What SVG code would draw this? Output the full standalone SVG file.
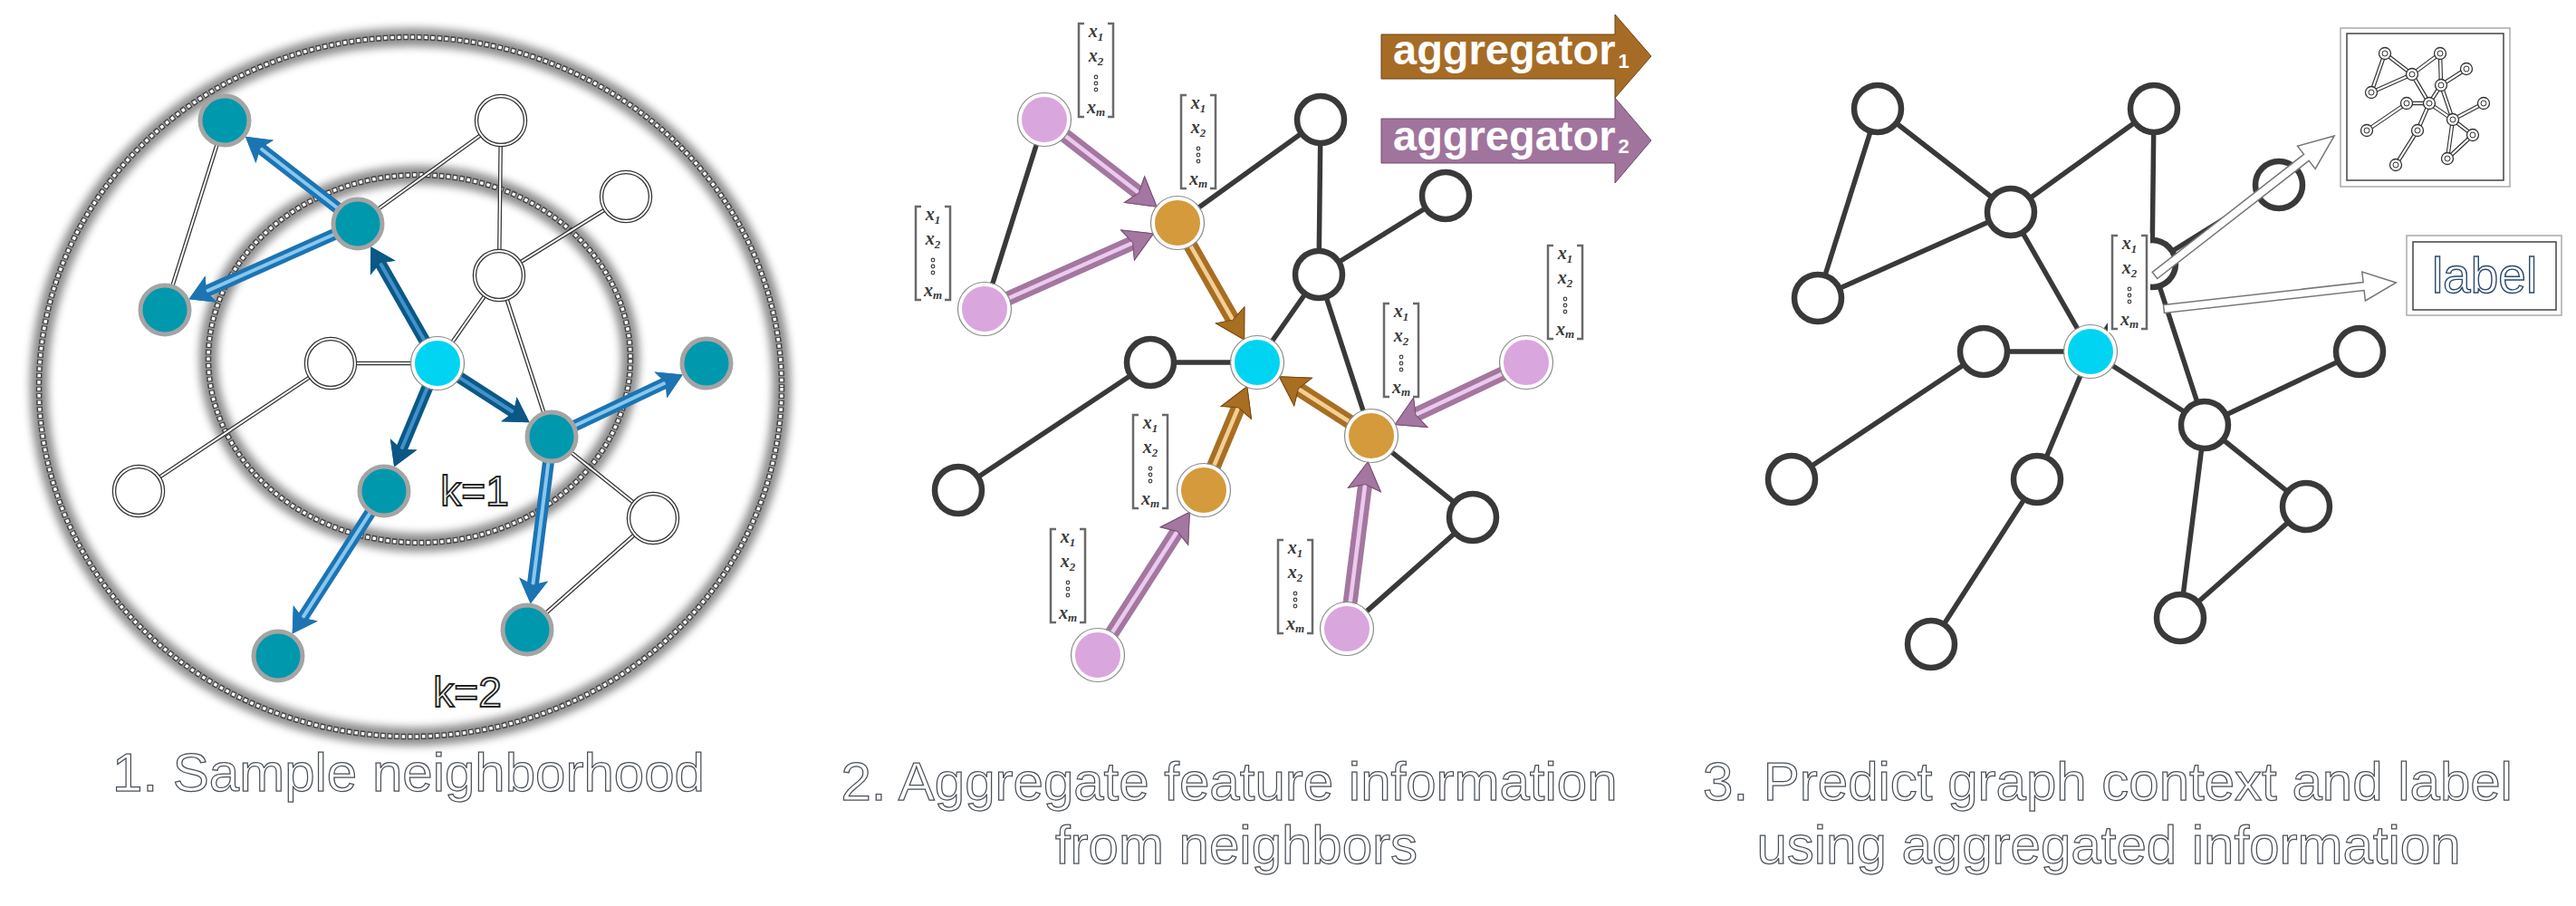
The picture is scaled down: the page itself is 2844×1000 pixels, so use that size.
<svg xmlns="http://www.w3.org/2000/svg" width="2844" height="1000" viewBox="0 0 2844 1000">
<style>
.cap{font-family:"Liberation Sans",Arial,Helvetica,sans-serif;font-size:60px;fill:#fff;stroke:#4a5058;stroke-width:1.25px;text-anchor:middle}
.k{font-family:"Liberation Sans",Arial,sans-serif;font-size:46px;fill:#fff;stroke:#222;stroke-width:1.8px;text-anchor:middle}
.agg{font-family:"Liberation Sans",Arial,sans-serif;font-weight:bold;fill:#fff}
.mx{font-family:"Liberation Serif","Times New Roman",serif;font-style:italic;font-weight:bold;font-size:20px;fill:#3a3a3a;text-anchor:middle}
.lbl{font-family:"Liberation Sans",Arial,sans-serif;font-size:55px;fill:#fff;stroke:#2b4a6e;stroke-width:1.4px;text-anchor:middle}
.e1d{stroke:#333;stroke-width:4.5}
.e1w{stroke:#fff;stroke-width:2}
.e2{stroke:#393939;stroke-width:5.5}
.tl{fill:#0098ad;stroke:#a4a4a4;stroke-width:5}
.w1{fill:#fff;stroke:#333;stroke-width:4.5}
.w1i{fill:none;stroke:#fff;stroke-width:2}
.w2{fill:#fff;stroke:#393939;stroke-width:6.5}
.ring{fill:none;stroke:#8a8a8a;stroke-width:1.2}
.cy{fill:#00d4f2;stroke:#fff;stroke-width:4}
.or{fill:#d49a3b;stroke:#fff;stroke-width:4}
.pk{fill:#d9a6de;stroke:#fff;stroke-width:4}
.a1{stroke:#0b5886;stroke-width:13}
.a1s{stroke:#3f93cc;stroke-width:4}
.a2{stroke:#1d74b2;stroke-width:13}
.a2s{stroke:#86c8f0;stroke-width:4}
.am{stroke:#a3779f;stroke-width:16}
.ams{stroke:#ecc9ee;stroke-width:4.5}
.ao{stroke:#a86e22;stroke-width:16}
.aos{stroke:#f3cf95;stroke-width:4.5}
.hol{fill:#fff;stroke:#777;stroke-width:1.5}
.box-o{fill:#fff;stroke:#aaa;stroke-width:1.5}
.box-i{fill:none;stroke:#444;stroke-width:1.5}
</style>
<defs>
<filter id="blur" x="-10%" y="-10%" width="120%" height="120%"><feGaussianBlur stdDeviation="5"/></filter>
<marker id="mk-b1" markerUnits="userSpaceOnUse" orient="auto" refX="4" refY="0" markerWidth="30" markerHeight="30" style="overflow:visible"><path d="M-3,-16 L24,0 L-3,16 L3,0 z" fill="#0b5886"/></marker>
<marker id="mk-b2" markerUnits="userSpaceOnUse" orient="auto" refX="4" refY="0" markerWidth="30" markerHeight="30" style="overflow:visible"><path d="M-3,-16 L24,0 L-3,16 L3,0 z" fill="#1d74b2"/></marker>
<marker id="mk-m" markerUnits="userSpaceOnUse" orient="auto" refX="8" refY="0" markerWidth="30" markerHeight="30" style="overflow:visible"><path d="M-3,-18 L28,0 L-3,18 L3,0 z" fill="#a3779f" stroke="#7a5277" stroke-width="1"/></marker>
<marker id="mk-o" markerUnits="userSpaceOnUse" orient="auto" refX="8" refY="0" markerWidth="30" markerHeight="30" style="overflow:visible"><path d="M-3,-18 L28,0 L-3,18 L3,0 z" fill="#a86e22" stroke="#7a4c12" stroke-width="1"/></marker>
<g id="mat">
<path d="M8,0 H2 V103 H8 M34,0 H40 V103 H34" fill="none" stroke="#6a6a6a" stroke-width="2.5"/>
<text x="21" y="15" class="mx">x<tspan font-size="13" dy="4">1</tspan></text>
<text x="21" y="42" class="mx">x<tspan font-size="13" dy="4">2</tspan></text>
<circle cx="21" cy="59" r="1.8" fill="none" stroke="#444" stroke-width="1.2"/>
<circle cx="21" cy="66" r="1.8" fill="none" stroke="#444" stroke-width="1.2"/>
<circle cx="21" cy="73" r="1.8" fill="none" stroke="#444" stroke-width="1.2"/>
<text x="21" y="99" class="mx">x<tspan font-size="13" dy="3">m</tspan></text>
</g>
</defs>
<rect width="2844" height="1000" fill="#fff"/>

<!-- ============ PANEL 1 ============ -->
<g id="panel1">
<g id="p1-rings">
<ellipse cx="453" cy="427" rx="410" ry="386" fill="none" stroke="#777" stroke-width="20" filter="url(#blur)" opacity="0.85"/>
<ellipse cx="453" cy="427" rx="410" ry="386" fill="none" stroke="#444" stroke-width="6.5" stroke-dasharray="5.5 2"/>
<ellipse cx="453" cy="427" rx="410" ry="386" fill="none" stroke="#fff" stroke-width="3.5" stroke-dasharray="3.5 4" stroke-dashoffset="-1"/>
<ellipse cx="463" cy="396" rx="233" ry="203" fill="none" stroke="#777" stroke-width="20" filter="url(#blur)" opacity="0.85"/>
<ellipse cx="463" cy="396" rx="233" ry="203" fill="none" stroke="#444" stroke-width="6.5" stroke-dasharray="5.5 2"/>
<ellipse cx="463" cy="396" rx="233" ry="203" fill="none" stroke="#fff" stroke-width="3.5" stroke-dasharray="3.5 4" stroke-dashoffset="-1"/>
</g>
<g id="p1-connectors">
<g class="e1d">
<line x1="248" y1="133" x2="182" y2="342"/>
<line x1="395" y1="247" x2="553" y2="133"/>
<line x1="553" y1="133" x2="551" y2="304"/>
<line x1="691" y1="217" x2="551" y2="304"/>
<line x1="551" y1="304" x2="483" y2="401"/>
<line x1="551" y1="304" x2="609" y2="482"/>
<line x1="365" y1="401" x2="483" y2="401"/>
<line x1="365" y1="401" x2="153" y2="542"/>
<line x1="609" y1="482" x2="721" y2="572"/>
<line x1="721" y1="572" x2="582" y2="695"/>
</g>
<g class="e1w">
<line x1="248" y1="133" x2="182" y2="342"/>
<line x1="395" y1="247" x2="553" y2="133"/>
<line x1="553" y1="133" x2="551" y2="304"/>
<line x1="691" y1="217" x2="551" y2="304"/>
<line x1="551" y1="304" x2="483" y2="401"/>
<line x1="551" y1="304" x2="609" y2="482"/>
<line x1="365" y1="401" x2="483" y2="401"/>
<line x1="365" y1="401" x2="153" y2="542"/>
<line x1="609" y1="482" x2="721" y2="572"/>
<line x1="721" y1="572" x2="582" y2="695"/>
</g>
<line class="a1" x1="483" y1="401" x2="419.3" y2="289.5" marker-end="url(#mk-b1)"/>
<line class="a1s" x1="483" y1="401" x2="419.3" y2="289.5" marker-end="url(#mk-b1)"/>
<line class="a1" x1="483" y1="401" x2="567.8" y2="455.5" marker-end="url(#mk-b1)"/>
<line class="a1s" x1="483" y1="401" x2="567.8" y2="455.5" marker-end="url(#mk-b1)"/>
<line class="a1" x1="483" y1="401" x2="442.9" y2="496.8" marker-end="url(#mk-b1)"/>
<line class="a1s" x1="483" y1="401" x2="442.9" y2="496.8" marker-end="url(#mk-b1)"/>
<line class="a2" x1="395" y1="247" x2="286.7" y2="163" marker-end="url(#mk-b2)"/>
<line class="a2s" x1="395" y1="247" x2="286.7" y2="163" marker-end="url(#mk-b2)"/>
<line class="a2" x1="395" y1="247" x2="226.8" y2="322" marker-end="url(#mk-b2)"/>
<line class="a2s" x1="395" y1="247" x2="226.8" y2="322" marker-end="url(#mk-b2)"/>
<line class="a2" x1="609" y1="482" x2="735.7" y2="422" marker-end="url(#mk-b2)"/>
<line class="a2s" x1="609" y1="482" x2="735.7" y2="422" marker-end="url(#mk-b2)"/>
<line class="a2" x1="609" y1="482" x2="588.2" y2="646.4" marker-end="url(#mk-b2)"/>
<line class="a2s" x1="609" y1="482" x2="588.2" y2="646.4" marker-end="url(#mk-b2)"/>
<line class="a2" x1="424" y1="542" x2="333.5" y2="682.8" marker-end="url(#mk-b2)"/>
<line class="a2s" x1="424" y1="542" x2="333.5" y2="682.8" marker-end="url(#mk-b2)"/>
</g>
<g id="p1-nodes">
<g id="p1-w1"><circle cx="553" cy="133" r="27" class="w1"/><circle cx="553" cy="133" r="27" class="w1i"/></g>
<g id="p1-w2"><circle cx="691" cy="217" r="27" class="w1"/><circle cx="691" cy="217" r="27" class="w1i"/></g>
<g id="p1-w3"><circle cx="551" cy="304" r="27" class="w1"/><circle cx="551" cy="304" r="27" class="w1i"/></g>
<g id="p1-w4"><circle cx="365" cy="401" r="27" class="w1"/><circle cx="365" cy="401" r="27" class="w1i"/></g>
<g id="p1-w5"><circle cx="153" cy="542" r="27" class="w1"/><circle cx="153" cy="542" r="27" class="w1i"/></g>
<g id="p1-w6"><circle cx="721" cy="572" r="27" class="w1"/><circle cx="721" cy="572" r="27" class="w1i"/></g>
<g id="p1-t1"><circle cx="395" cy="247" r="27" class="tl"/></g>
<g id="p1-t2"><circle cx="248" cy="133" r="27" class="tl"/></g>
<g id="p1-t3"><circle cx="182" cy="342" r="27" class="tl"/></g>
<g id="p1-t4"><circle cx="609" cy="482" r="27" class="tl"/></g>
<g id="p1-t5"><circle cx="780" cy="401" r="27" class="tl"/></g>
<g id="p1-t6"><circle cx="424" cy="542" r="27" class="tl"/></g>
<g id="p1-t7"><circle cx="307" cy="724" r="27" class="tl"/></g>
<g id="p1-t8"><circle cx="582" cy="695" r="27" class="tl"/></g>
<g id="p1-c"><circle cx="483" cy="401" r="27" class="cy"/><circle cx="483" cy="401" r="29.5" class="ring"/></g>
</g>
<text class="k" x="524" y="558">k=1</text>
<text class="k" x="516" y="780">k=2</text>
<text class="cap" x="451" y="873">1. Sample neighborhood</text>
</g>

<!-- ============ PANEL 2 ============ -->
<g id="panel2">
<g id="p2-connectors" transform="translate(905,-1)">
<g class="e2">
<line x1="248" y1="133" x2="182" y2="342"/>
<line x1="395" y1="247" x2="553" y2="133"/>
<line x1="553" y1="133" x2="551" y2="304"/>
<line x1="691" y1="217" x2="551" y2="304"/>
<line x1="551" y1="304" x2="483" y2="401"/>
<line x1="551" y1="304" x2="609" y2="482"/>
<line x1="365" y1="401" x2="483" y2="401"/>
<line x1="365" y1="401" x2="153" y2="542"/>
<line x1="609" y1="482" x2="721" y2="572"/>
<line x1="721" y1="572" x2="582" y2="695"/>
</g>
<line class="am" x1="248" y1="133" x2="356.3" y2="217" marker-end="url(#mk-m)"/>
<line class="ams" x1="248" y1="133" x2="356.3" y2="217" marker-end="url(#mk-m)"/>
<line class="am" x1="182" y1="342" x2="350.2" y2="267" marker-end="url(#mk-m)"/>
<line class="ams" x1="182" y1="342" x2="350.2" y2="267" marker-end="url(#mk-m)"/>
<line class="am" x1="780" y1="401" x2="653.3" y2="461" marker-end="url(#mk-m)"/>
<line class="ams" x1="780" y1="401" x2="653.3" y2="461" marker-end="url(#mk-m)"/>
<line class="am" x1="582" y1="695" x2="602.8" y2="530.6" marker-end="url(#mk-m)"/>
<line class="ams" x1="582" y1="695" x2="602.8" y2="530.6" marker-end="url(#mk-m)"/>
<line class="am" x1="307" y1="724" x2="397.5" y2="583.2" marker-end="url(#mk-m)"/>
<line class="ams" x1="307" y1="724" x2="397.5" y2="583.2" marker-end="url(#mk-m)"/>
<line class="ao" x1="395" y1="247" x2="458.7" y2="358.5" marker-end="url(#mk-o)"/>
<line class="aos" x1="395" y1="247" x2="458.7" y2="358.5" marker-end="url(#mk-o)"/>
<line class="ao" x1="609" y1="482" x2="524.2" y2="427.5" marker-end="url(#mk-o)"/>
<line class="aos" x1="609" y1="482" x2="524.2" y2="427.5" marker-end="url(#mk-o)"/>
<line class="ao" x1="424" y1="542" x2="464.1" y2="446.2" marker-end="url(#mk-o)"/>
<line class="aos" x1="424" y1="542" x2="464.1" y2="446.2" marker-end="url(#mk-o)"/>
</g>
<g id="p2-nodes" transform="translate(905,-1)">
<g id="p2-w1"><circle cx="553" cy="133" r="26" class="w2"/></g>
<g id="p2-w2"><circle cx="691" cy="217" r="26" class="w2"/></g>
<g id="p2-w3"><circle cx="551" cy="304" r="26" class="w2"/></g>
<g id="p2-w4"><circle cx="365" cy="401" r="26" class="w2"/></g>
<g id="p2-w5"><circle cx="153" cy="542" r="26" class="w2"/></g>
<g id="p2-w6"><circle cx="721" cy="572" r="26" class="w2"/></g>
<g id="p2-o1"><circle cx="395" cy="247" r="27" class="or"/><circle cx="395" cy="247" r="29.5" class="ring"/></g>
<g id="p2-o2"><circle cx="609" cy="482" r="27" class="or"/><circle cx="609" cy="482" r="29.5" class="ring"/></g>
<g id="p2-o3"><circle cx="424" cy="542" r="27" class="or"/><circle cx="424" cy="542" r="29.5" class="ring"/></g>
<g id="p2-p1"><circle cx="248" cy="133" r="27" class="pk"/><circle cx="248" cy="133" r="29.5" class="ring"/></g>
<g id="p2-p2"><circle cx="182" cy="342" r="27" class="pk"/><circle cx="182" cy="342" r="29.5" class="ring"/></g>
<g id="p2-p3"><circle cx="780" cy="401" r="27" class="pk"/><circle cx="780" cy="401" r="29.5" class="ring"/></g>
<g id="p2-p4"><circle cx="307" cy="724" r="27" class="pk"/><circle cx="307" cy="724" r="29.5" class="ring"/></g>
<g id="p2-p5"><circle cx="582" cy="695" r="27" class="pk"/><circle cx="582" cy="695" r="29.5" class="ring"/></g>
<g id="p2-c"><circle cx="483" cy="401" r="27" class="cy"/><circle cx="483" cy="401" r="29.5" class="ring"/></g>
</g>
<g id="p2-features">
<use href="#mat" x="1189" y="26"/>
<use href="#mat" x="1302" y="105"/>
<use href="#mat" x="1009" y="228"/>
<use href="#mat" x="1707" y="271"/>
<use href="#mat" x="1526" y="335"/>
<use href="#mat" x="1249" y="458"/>
<use href="#mat" x="1158" y="584"/>
<use href="#mat" x="1409" y="596"/>
</g>
<g id="agg1">
<path d="M1525,38 H1783 V16 L1823,62 L1783,108 V87 H1525 z" fill="#a66c26" stroke="#6b4515" stroke-width="1"/>
<text class="agg" x="1538" y="71" font-size="47">aggregator<tspan font-size="22" dx="3" dy="4">1</tspan></text>
</g>
<g id="agg2">
<path d="M1525,131 H1783 V108 L1823,155 L1783,202 V180 H1525 z" fill="#a1749e" stroke="#6e4a6b" stroke-width="1"/>
<text class="agg" x="1538" y="166" font-size="47">aggregator<tspan font-size="22" dx="3" dy="3">2</tspan></text>
</g>
<text class="cap" x="1357" y="883">2. Aggregate feature information</text>
<text class="cap" x="1365" y="953">from neighbors</text>
</g>

<!-- ============ PANEL 3 ============ -->
<g id="panel3">
<g id="p3-connectors" transform="translate(1825,-13)" class="e2">
<line x1="248" y1="133" x2="182" y2="342"/>
<line x1="395" y1="247" x2="553" y2="133"/>
<line x1="553" y1="133" x2="551" y2="304"/>
<line x1="691" y1="217" x2="551" y2="304"/>
<line x1="551" y1="304" x2="483" y2="401"/>
<line x1="551" y1="304" x2="609" y2="482"/>
<line x1="365" y1="401" x2="483" y2="401"/>
<line x1="365" y1="401" x2="153" y2="542"/>
<line x1="609" y1="482" x2="721" y2="572"/>
<line x1="721" y1="572" x2="582" y2="695"/>
<line x1="483" y1="401" x2="395" y2="247"/>
<line x1="395" y1="247" x2="248" y2="133"/>
<line x1="395" y1="247" x2="182" y2="342"/>
<line x1="483" y1="401" x2="609" y2="482"/>
<line x1="609" y1="482" x2="780" y2="401"/>
<line x1="609" y1="482" x2="582" y2="695"/>
<line x1="483" y1="401" x2="424" y2="542"/>
<line x1="424" y1="542" x2="307" y2="724"/>
</g>
<g id="p3-nodes" transform="translate(1825,-13)">
<g id="p3-n1"><circle cx="248" cy="133" r="26" class="w2"/></g>
<g id="p3-n2"><circle cx="395" cy="247" r="26" class="w2"/></g>
<g id="p3-n3"><circle cx="182" cy="342" r="26" class="w2"/></g>
<g id="p3-n4"><circle cx="553" cy="133" r="26" class="w2"/></g>
<g id="p3-n5"><circle cx="691" cy="217" r="26" class="w2"/></g>
<g id="p3-n6"><circle cx="551" cy="304" r="26" class="w2"/></g>
<g id="p3-n7"><circle cx="365" cy="401" r="26" class="w2"/></g>
<g id="p3-n8"><circle cx="153" cy="542" r="26" class="w2"/></g>
<g id="p3-n9"><circle cx="609" cy="482" r="26" class="w2"/></g>
<g id="p3-n10"><circle cx="780" cy="401" r="26" class="w2"/></g>
<g id="p3-n11"><circle cx="424" cy="542" r="26" class="w2"/></g>
<g id="p3-n12"><circle cx="307" cy="724" r="26" class="w2"/></g>
<g id="p3-n13"><circle cx="721" cy="572" r="26" class="w2"/></g>
<g id="p3-n14"><circle cx="582" cy="695" r="26" class="w2"/></g>
<g id="p3-c"><circle cx="483" cy="401" r="27" class="cy"/><circle cx="483" cy="401" r="29.5" class="ring"/></g>
</g>
<g id="p3-feature">
<rect x="2327" y="257" width="47" height="110" fill="#fff"/>
<use href="#mat" x="2330" y="260"/>
</g>
<g id="p3-context">
<rect x="2584" y="31" width="187" height="175" class="box-o"/>
<rect x="2591" y="37" width="173" height="162" class="box-i"/>
<path d="M2633,59L2618,102 M2663,82L2694,59 M2694,59L2695,94 M2723,76L2695,94 M2695,94L2682,114 M2695,94L2708,132 M2657,114L2682,114 M2657,114L2613,144 M2708,132L2730,149 M2730,149L2702,175 M2682,114L2663,82 M2663,82L2633,59 M2663,82L2618,102 M2682,114L2708,132 M2708,132L2742,114 M2708,132L2702,175 M2682,114L2669,144 M2669,144L2645,182" fill="none" stroke="#333" stroke-width="4.5"/>
<path d="M2633,59L2618,102 M2663,82L2694,59 M2694,59L2695,94 M2723,76L2695,94 M2695,94L2682,114 M2695,94L2708,132 M2657,114L2682,114 M2657,114L2613,144 M2708,132L2730,149 M2730,149L2702,175 M2682,114L2663,82 M2663,82L2633,59 M2663,82L2618,102 M2682,114L2708,132 M2708,132L2742,114 M2708,132L2702,175 M2682,114L2669,144 M2669,144L2645,182" fill="none" stroke="#fff" stroke-width="2.2"/>
<g fill="#fff" stroke="#333" stroke-width="1.3">
<circle cx="2633" cy="59" r="6.5"/><circle cx="2694" cy="59" r="6.5"/><circle cx="2663" cy="82" r="6.5"/>
<circle cx="2618" cy="102" r="6.5"/><circle cx="2723" cy="76" r="6.5"/><circle cx="2695" cy="94" r="6.5"/>
<circle cx="2682" cy="114" r="6.5"/><circle cx="2657" cy="114" r="6.5"/><circle cx="2742" cy="114" r="6.5"/>
<circle cx="2708" cy="132" r="6.5"/><circle cx="2613" cy="144" r="6.5"/><circle cx="2669" cy="144" r="6.5"/>
<circle cx="2730" cy="149" r="6.5"/><circle cx="2645" cy="182" r="6.5"/><circle cx="2702" cy="175" r="6.5"/>
</g>
<g fill="none" stroke="#333" stroke-width="1">
<circle cx="2633" cy="59" r="3"/><circle cx="2694" cy="59" r="3"/><circle cx="2663" cy="82" r="3"/>
<circle cx="2618" cy="102" r="3"/><circle cx="2723" cy="76" r="3"/><circle cx="2695" cy="94" r="3"/>
<circle cx="2682" cy="114" r="3"/><circle cx="2657" cy="114" r="3"/><circle cx="2742" cy="114" r="3"/>
<circle cx="2708" cy="132" r="3"/><circle cx="2613" cy="144" r="3"/><circle cx="2669" cy="144" r="3"/>
<circle cx="2730" cy="149" r="3"/><circle cx="2645" cy="182" r="3"/><circle cx="2702" cy="175" r="3"/>
</g>
</g>
<g id="p3-label">
<rect x="2657" y="260" width="171" height="88" class="box-o"/>
<rect x="2664" y="267" width="158" height="75" class="box-i"/>
<text class="lbl" x="2743" y="323">label</text>
</g>
<g id="p3-arrows">
<g transform="translate(2379,304) rotate(-37.87)"><path d="M0,-4.5 H212 V-16 L251,0 L212,16 V4.5 H0 z" class="hol"/></g>
<g transform="translate(2389,341) rotate(-6.46)"><path d="M0,-4.5 H222 V-16 L258,0 L222,16 V4.5 H0 z" class="hol"/></g>
</g>
<text class="cap" x="2327" y="883">3. Predict graph context and label</text>
<text class="cap" x="2328" y="953">using aggregated information</text>
</g>
</svg>
